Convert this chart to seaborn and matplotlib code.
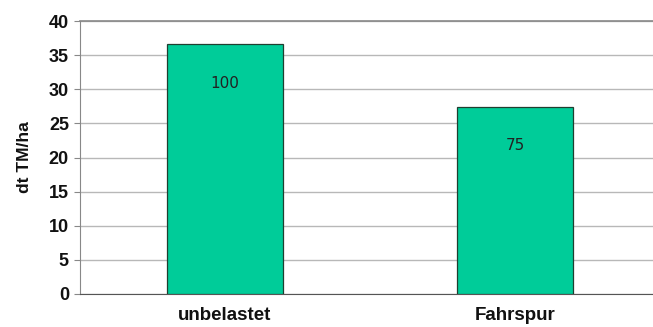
import matplotlib
matplotlib.use("Agg")
import matplotlib.pyplot as plt
import seaborn as sns
import pandas as pd

categories = ["unbelastet", "Fahrspur"]
values = [36.6, 27.4]
rel_labels = ["100", "75"]
yticks = [0, 5, 10, 15, 20, 25, 30, 35, 40]

sns.set_style("white")
plt.rcParams['font.family'] = ['Liberation Sans', 'DejaVu Sans']

df = pd.DataFrame({"cat": categories, "val": values})

fig = plt.figure(figsize=(6.53, 3.27), dpi=100)
ax = fig.add_axes([80/653, 1 - 294/327, (660 - 80)/653, (294 - 21)/327])

sns.barplot(data=df, x="cat", y="val", ax=ax, color="#00CC99", saturation=1,
            width=0.4, edgecolor="#1f3f30", linewidth=0.9, zorder=3)

ax.set_ylim(0, 40)
ax.set_xlim(-0.5, 1.5)
ax.set_yticks(yticks)
ax.set_yticklabels([str(t) for t in yticks], fontsize=13, fontweight="bold", color="#111111")
ax.yaxis.grid(True, color="#b8b8b8", linewidth=1.0, zorder=0)
ax.set_axisbelow(True)

ax.set_xticks([0, 1])
ax.set_xticklabels(categories, fontsize=13.5, fontweight="bold", color="#111111")
ax.tick_params(axis="x", length=0, pad=9)
ax.set_xticks([0.5], minor=True)
ax.tick_params(axis="x", which="minor", length=4, color="#888888")
ax.tick_params(axis="y", length=4, color="#888888", pad=4, left=True)

ax.set_xlabel("")
ax.set_ylabel("dt TM/ha", fontsize=12.5, fontweight="bold", labelpad=12, color="#111111")

ax.spines["right"].set_visible(False)
ax.spines["top"].set_color("#888888")
ax.spines["left"].set_color("#888888")
ax.spines["bottom"].set_color("#555555")
ax.spines["top"].set_linewidth(1.2)

for i, (v, lab) in enumerate(zip(values, rel_labels)):
    ax.annotate(lab, (i, v), xytext=(0, -28), textcoords="offset points",
                ha="center", va="center", fontsize=11, color="#222222",
                family=["DejaVu Sans"], zorder=5)

fig.savefig("out.png", dpi=100)
